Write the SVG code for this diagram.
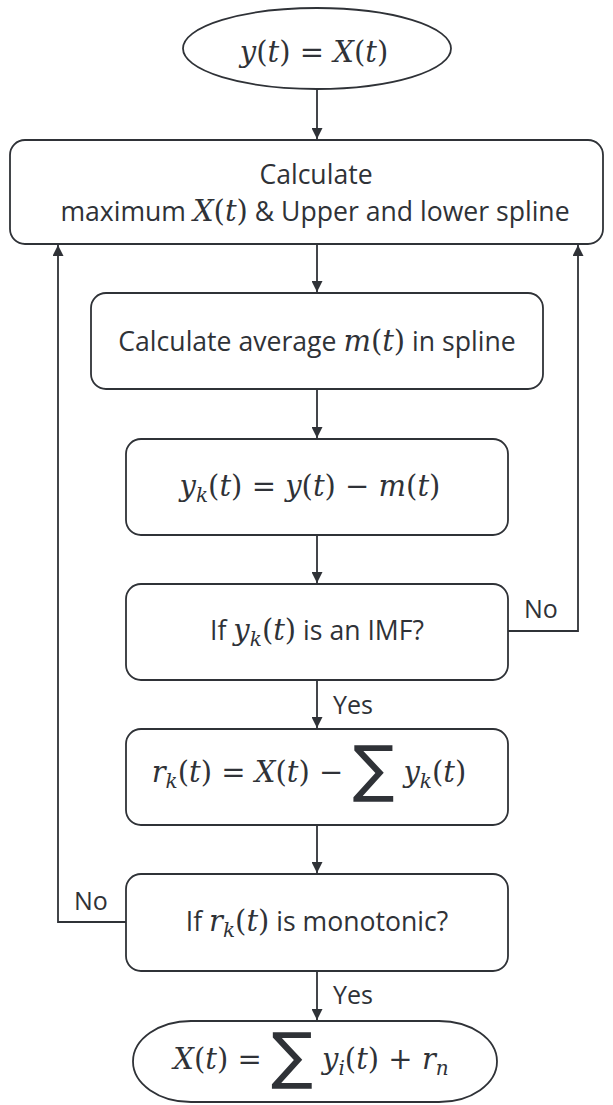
<svg xmlns="http://www.w3.org/2000/svg" width="613" height="1105" viewBox="0 0 613 1105">
<defs>
<marker id="ah" viewBox="0 0 10 10" refX="10" refY="5" markerWidth="12" markerHeight="11" markerUnits="userSpaceOnUse" orient="auto">
<path d="M0,0 L10,5 L0,10 z" fill="#2f3237"/>
</marker>
<style>
.n{fill:#fff;stroke:#2f3237;stroke-width:1.8}
.c{fill:none;stroke:#2f3237;stroke-width:1.8}
.t{font-family:"Open Sans","Liberation Sans",sans-serif;font-size:26.6px;fill:#2f3237}
.m{font-family:"DejaVu Serif",serif;font-style:italic;font-size:29px}
.r{font-family:"DejaVu Serif",serif;font-style:normal;font-size:29px}
.s{font-size:20px}
.sum{font-family:"DejaVu Sans",sans-serif;font-style:normal;font-size:62px}
.l{font-family:"Open Sans","Liberation Sans",sans-serif;font-size:25px;fill:#2f3237}
</style>
</defs>
<g id="connectors">
<line class="c" x1="317" y1="89" x2="317" y2="139" marker-end="url(#ah)"/>
<line class="c" x1="317" y1="244" x2="317" y2="292" marker-end="url(#ah)"/>
<line class="c" x1="317" y1="389" x2="317" y2="438" marker-end="url(#ah)"/>
<line class="c" x1="317" y1="535" x2="317" y2="583" marker-end="url(#ah)"/>
<polyline class="c" points="508,631 578,631 578,245" marker-end="url(#ah)"/>
<line class="c" x1="317" y1="680" x2="317" y2="728" marker-end="url(#ah)"/>
<line class="c" x1="317" y1="825" x2="317" y2="873" marker-end="url(#ah)"/>
<polyline class="c" points="126,922 58,922 58,245" marker-end="url(#ah)"/>
<line class="c" x1="317" y1="971" x2="317" y2="1020" marker-end="url(#ah)"/>
<text class="l" x="524" y="618">No</text>
<text class="l" x="333" y="714">Yes</text>
<text class="l" x="74" y="910">No</text>
<text class="l" x="333" y="1004">Yes</text>
</g>
<g id="start">
<ellipse class="n" cx="317" cy="48.5" rx="134" ry="40.5"/>
<text class="t" x="314" y="62" text-anchor="middle"><tspan class="m">y</tspan><tspan class="r">(</tspan><tspan class="m">t</tspan><tspan class="r">) = </tspan><tspan class="m">X</tspan><tspan class="r">(</tspan><tspan class="m">t</tspan><tspan class="r">)</tspan></text>
</g>
<g id="calc-spline">
<rect class="n" x="10" y="140" width="593" height="104" rx="15"/>
<text class="t" x="316" y="184" text-anchor="middle">Calculate</text>
<text class="t" x="315" y="221" text-anchor="middle">maximum <tspan class="m">X</tspan><tspan class="r">(</tspan><tspan class="m">t</tspan><tspan class="r">)</tspan> &amp; Upper and lower spline</text>
</g>
<g id="calc-average">
<rect class="n" x="91" y="293" width="452" height="96" rx="15"/>
<text class="t" x="317" y="351" text-anchor="middle">Calculate average <tspan class="m">m</tspan><tspan class="r">(</tspan><tspan class="m">t</tspan><tspan class="r">)</tspan> in spline</text>
</g>
<g id="yk">
<rect class="n" x="126" y="439" width="382" height="96" rx="15"/>
<text class="t" x="310" y="496" text-anchor="middle"><tspan class="m">y</tspan><tspan class="m s" dy="6">k</tspan><tspan class="r" dy="-6">(</tspan><tspan class="m">t</tspan><tspan class="r">) = </tspan><tspan class="m">y</tspan><tspan class="r">(</tspan><tspan class="m">t</tspan><tspan class="r">) − </tspan><tspan class="m">m</tspan><tspan class="r">(</tspan><tspan class="m">t</tspan><tspan class="r">)</tspan></text>
</g>
<g id="imf-check">
<rect class="n" x="126" y="584" width="382" height="96" rx="15"/>
<text class="t" x="317" y="640" text-anchor="middle">If <tspan class="m">y</tspan><tspan class="m s" dy="6">k</tspan><tspan class="r" dy="-6">(</tspan><tspan class="m">t</tspan><tspan class="r">)</tspan> is an IMF?</text>
</g>
<g id="rk">
<rect class="n" x="126" y="729" width="382" height="96" rx="15"/>
<text class="t" x="309" y="782" text-anchor="middle"><tspan class="m">r</tspan><tspan class="m s" dy="6">k</tspan><tspan class="r" dy="-6">(</tspan><tspan class="m">t</tspan><tspan class="r">) = </tspan><tspan class="m">X</tspan><tspan class="r">(</tspan><tspan class="m">t</tspan><tspan class="r">) − </tspan><tspan class="sum" dy="8">∑</tspan><tspan class="m" dy="-8"> y</tspan><tspan class="m s" dy="6">k</tspan><tspan class="r" dy="-6">(</tspan><tspan class="m">t</tspan><tspan class="r">)</tspan></text>
</g>
<g id="monotonic-check">
<rect class="n" x="126" y="874" width="382" height="97" rx="15"/>
<text class="t" x="317" y="931" text-anchor="middle">If <tspan class="m">r</tspan><tspan class="m s" dy="6">k</tspan><tspan class="r" dy="-6">(</tspan><tspan class="m">t</tspan><tspan class="r">)</tspan> is monotonic?</text>
</g>
<g id="end">
<rect class="n" x="133" y="1021" width="364" height="81" rx="58" ry="40.5"/>
<text class="t" x="311" y="1069" text-anchor="middle"><tspan class="m">X</tspan><tspan class="r">(</tspan><tspan class="m">t</tspan><tspan class="r">) = </tspan><tspan class="sum" dy="8">∑</tspan><tspan class="m" dy="-8"> y</tspan><tspan class="m s" dy="6">i</tspan><tspan class="r" dy="-6">(</tspan><tspan class="m">t</tspan><tspan class="r">) + </tspan><tspan class="m">r</tspan><tspan class="m s" dy="6">n</tspan></text>
</g>
</svg>
